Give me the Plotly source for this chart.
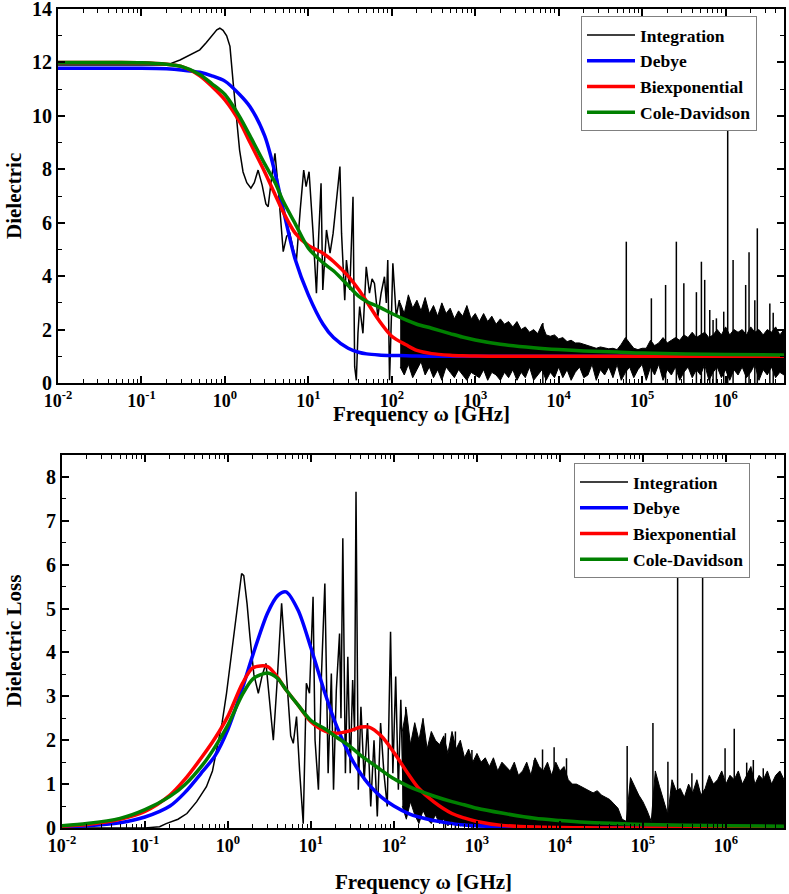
import plotly.graph_objects as go

# ---------------- data ----------------
# model curves share one frequency list (GHz)
model_f = [0.01, 0.02, 0.05, 0.1, 0.2, 0.3, 0.5, 0.7, 1, 1.5, 2, 3, 4, 5, 7, 10, 15, 20, 30, 40,
           50, 70, 100, 150, 200, 300, 500, 700, 1e3, 2e3, 5e3, 1e4, 2e4, 5e4, 1e5, 1e6, 5e6]

# top panel: dielectric (real part)
top_debye = [11.78, 11.78, 11.78, 11.78, 11.76, 11.72, 11.63, 11.5, 11.3, 10.8, 10.34, 9.25, 7.85, 6.5,
             4.6, 3.3, 2.2, 1.7, 1.3, 1.15, 1.09, 1.05, 1.03, 1.02, 1.01, 1.0, 1.0, 1.0, 1.0, 1.0,
             1.0, 1.0, 1.0, 1.0, 1.0, 1.0, 1.0]
top_biexp = [12.0, 12.0, 12.0, 11.99, 11.93, 11.85, 11.5, 11.1, 10.6, 9.78, 9.0, 7.9, 7.05, 6.4,
             5.6, 5.15, 4.86, 4.55, 4.0, 3.5, 3.05, 2.35, 1.75, 1.42, 1.22, 1.1, 1.04, 1.02, 1.01,
             1.0, 1.0, 1.0, 1.0, 1.0, 1.0, 1.0, 1.0]
top_cd = [12.0, 12.0, 12.0, 11.99, 11.93, 11.85, 11.55, 11.2, 10.8, 9.97, 9.25, 8.2, 7.5, 6.8,
          5.95, 5.05, 4.5, 4.2, 3.65, 3.25, 3.05, 2.85, 2.6, 2.35, 2.2, 2.05, 1.85, 1.72, 1.61,
          1.45, 1.32, 1.25, 1.2, 1.16, 1.12, 1.07, 1.05]

# bottom panel: dielectric loss
bot_debye = [0.03, 0.05, 0.12, 0.25, 0.5, 0.8, 1.3, 1.65, 2.25, 3.2, 3.95, 4.9, 5.3, 5.38, 4.96,
             4.1, 3.03, 2.36, 1.62, 1.23, 0.99, 0.71, 0.5, 0.33, 0.25, 0.17, 0.1, 0.07, 0.05,
             0.025, 0.01, 0.005, 0, 0, 0, 0, 0]
bot_biexp = [0.04, 0.08, 0.2, 0.38, 0.75, 1.1, 1.65, 2.05, 2.55, 3.3, 3.65, 3.68, 3.42, 3.15, 2.8,
             2.42, 2.2, 2.16, 2.22, 2.3, 2.3, 2.1, 1.72, 1.22, 0.9, 0.6, 0.33, 0.23, 0.15, 0.06,
             0.02, 0.01, 0.005, 0, 0, 0, 0]
bot_cd = [0.05, 0.1, 0.22, 0.42, 0.72, 0.98, 1.45, 1.85, 2.35, 3.05, 3.4, 3.53, 3.4, 3.15, 2.8,
          2.45, 2.25, 2.08, 1.85, 1.65, 1.52, 1.32, 1.12, 0.95, 0.85, 0.73, 0.6, 0.53, 0.45,
          0.34, 0.22, 0.17, 0.13, 0.1, 0.08, 0.05, 0.04]

# Integration, resolved part (top)
top_int_f = [0.01, 0.05, 0.1, 0.2, 0.29, 0.4, 0.5, 0.6, 0.72, 0.8, 0.87, 0.95, 1.05, 1.15, 1.26,
             1.37, 1.5, 1.65, 1.83, 2.05, 2.25, 2.5, 2.8, 3.1, 3.3, 3.6, 3.98, 4.3, 4.7, 5.0,
             5.5, 6.0, 6.6, 7.2, 8.0, 8.8, 9.4, 10.2, 11.4, 12.5, 13.3, 14.2, 14.9, 16.5, 18.2,
             19.8, 22.6, 23.9, 25.0, 27.3, 28.6, 31.4, 34.3, 35.9, 37.6, 39.3, 41.2, 45.1, 49.4,
             54, 58, 62, 68, 74.5, 81.7, 86, 89.5, 94, 99, 103, 113, 123, 135]
top_int_v = [11.9, 11.9, 11.88, 11.9, 12.09, 12.3, 12.47, 12.75, 13.05, 13.22, 13.28, 13.2, 13.0,
             12.6, 11.2, 10.0, 8.72, 7.9, 7.5, 7.29, 7.5, 7.97, 7.4, 6.7, 6.6, 7.6, 8.6, 7.5, 5.8,
             4.92, 5.5, 5.6, 5.0, 4.6, 6.5, 7.97, 7.35, 7.91, 5.6, 3.36, 5.5, 7.48, 3.48, 5.73,
             4.86, 5.6, 7.35, 8.1, 5.6, 3.1, 4.6, 3.48, 6.97, 0.61, 0.1, 1.86, 2.86, 1.86, 4.35,
             3.36, 3.9, 3.73, 2.48, 3.36, 3.98, 3.0, 4.6, 0.1, 2.5, 4.48, 2.48, 3.1, 1.86]

# Integration, resolved part (bottom)
bot_int_f = [0.01, 0.1, 0.15, 0.18, 0.25, 0.32, 0.42, 0.55, 0.65, 0.73, 0.85, 0.96, 1.06, 1.16,
             1.3, 1.46, 1.55, 1.7, 1.84, 2.05, 2.32, 2.6, 2.87, 3.2, 3.52, 3.9, 4.43, 4.85, 5.33,
             5.7, 6.12, 6.7, 7.3, 8.07, 8.8, 9.6, 10.6, 11.2, 12.3, 13.4, 14.7, 16.1, 17.6, 18.7,
             20.2, 22.1, 23.0, 24.2, 26, 27.8, 29.7, 31.8, 33.5, 34.9, 37.2, 40, 43.8, 48, 52.5,
             57.5, 63, 69, 75.7, 83, 91, 97, 105, 113, 121, 130, 139]
bot_int_v = [0, 0, 0.03, 0.1, 0.2, 0.33, 0.6, 0.94, 1.3, 1.78, 2.4, 3.07, 3.7, 4.28, 5.1, 5.8,
             5.75, 5.1, 4.36, 3.5, 3.07, 3.5, 3.75, 2.9, 2.0, 3.3, 5.12, 4.0, 2.84, 2.1, 1.93,
             2.54, 1.3, 0.1, 3.3, 3.07, 5.27, 2.0, 0.87, 3.52, 5.57, 1.25, 3.52, 0.87, 3.14, 4.43,
             2.5, 6.6, 1.25, 3.9, 1.25, 3.37, 2.2, 7.66, 0.87, 2.76, 1.09, 2.39, 0.49, 2.0, 0.26,
             2.39, 1.25, 0.49, 4.47, 1.25, 3.45, 0.87, 2.92, 0.64, 2.76]

# Integration, dense high-frequency part: lower / upper envelope of the oscillation
band_f = [1.26e2, 1.41e2, 1.58e2, 1.78e2, 2.00e2, 2.24e2, 2.51e2, 2.82e2, 3.16e2, 3.55e2,
          3.98e2, 4.47e2, 5.01e2, 5.62e2, 6.31e2, 7.08e2, 7.94e2, 8.91e2,
          1.00e3, 1.12e3, 1.26e3, 1.41e3, 1.58e3, 1.78e3, 2.00e3, 2.24e3, 2.51e3, 2.82e3,
          3.16e3, 3.55e3, 3.98e3, 4.47e3, 5.01e3, 5.62e3, 6.31e3, 7.08e3, 7.94e3, 8.91e3,
          1.00e4, 1.12e4, 1.26e4, 1.41e4, 1.58e4, 1.78e4, 2.00e4, 2.24e4, 2.51e4, 2.82e4,
          3.16e4, 3.55e4, 3.98e4, 4.47e4, 5.01e4, 5.62e4, 6.31e4, 7.08e4, 7.94e4, 8.91e4,
          1.00e5, 1.12e5, 1.26e5, 1.41e5, 1.58e5, 1.78e5, 2.00e5, 2.24e5, 2.51e5, 2.82e5,
          3.16e5, 3.55e5, 3.98e5, 4.47e5, 5.01e5, 5.62e5, 6.31e5, 7.08e5, 7.94e5, 8.91e5,
          1.00e6, 1.12e6, 1.26e6, 1.41e6, 1.58e6, 1.78e6, 2.00e6, 2.24e6, 2.51e6, 2.82e6,
          3.16e6, 3.55e6, 3.98e6, 4.47e6, 5.01e6]
top_band_hi = [3.0, 2.6, 3.3, 2.8, 3.1, 2.7, 3.2, 2.6, 2.9,
               2.5, 3.0, 2.6, 2.8, 2.4, 2.7, 2.5, 2.9, 2.4, 2.6,
               2.3, 2.6, 2.3, 2.5, 2.2, 2.4, 2.2, 2.3, 2.1, 2.3,
               2.0, 2.1, 1.9, 2.0, 1.85, 2.2, 1.8, 1.75, 1.8, 1.65,
               1.7, 1.55, 1.6, 1.5, 1.5, 1.45, 1.4, 1.35, 1.3, 1.35,
               1.3, 1.28, 1.3, 1.25, 1.45, 1.7, 1.5, 1.3, 1.25, 1.3,
               1.3, 1.6, 1.4, 1.5, 1.7, 1.5, 1.6, 1.7, 1.6, 1.8,
               1.7, 1.9, 1.7, 1.8, 1.9, 1.7, 1.8, 2.0, 1.8, 2.1,
               1.8, 2.0, 1.9, 2.0, 1.8, 2.1, 1.9, 2.0, 1.8, 2.0,
               1.9, 2.1, 1.8, 2.0]
top_band_lo = [0.6, 0.3, 0.7, 0.2, 0.5, 0.8, 0.3, 0.6, 0.2,
               0.5, 0.1, 0.6, 0.4, 0.2, 0.5, 0.3, 0.1, 0.4, 0.3,
               0.2, 0.5, 0.1, 0.4, 0.3, 0.1, 0.4, 0.2, 0.5, 0.1,
               0.4, 0.2, 0.6, 0.1, 0.3, 0.5, 0.1, 0.4, 0.2, 0.6,
               0.2, 0.5, 0.1, 0.4, 0.6, 0.2, 0.3, 0.7, 0.1, 0.5,
               0.3, 0.6, 0.2, 0.7, 0.1, 0.4, 0.6, 0.2, 0.5, 0.7,
               0.1, 0.6, 0.3, 0.7, 0.1, 0.5, 0.3, 0.6, 0.1, 0.4,
               0.6, 0.2, 0.5, 0.3, 0.7, 0.1, 0.4, 0.6, 0.2, 0.5,
               0.1, 0.5, 0.3, 0.6, 0.2, 0.4, 0.7, 0.1, 0.5, 0.3,
               0.6, 0.2, 0.4, 0.3]
bot_band_hi = [2.2, 2.7, 1.9, 2.4, 2.0, 2.5, 1.8, 2.2, 2.0,
               1.9, 2.1, 1.7, 2.2, 1.8, 2.0, 1.6, 1.8, 1.5, 1.7,
               1.5, 1.6, 1.4, 1.6, 1.3, 1.5, 1.4, 1.3, 1.5, 1.2,
               1.3, 1.5, 1.2, 1.6, 1.4, 1.3, 1.5, 1.2, 1.5, 1.3,
               1.4, 1.1, 1.0, 1.0, 0.95, 0.9, 0.85, 0.8, 0.85, 0.75,
               0.7, 0.65, 0.55, 0.45, 0.2, 0.15, 1.15, 0.95, 0.75, 0.6,
               0.4, 0.15, 1.3, 0.95, 0.6, 0.3, 1.1, 0.85, 0.9, 0.7,
               1.0, 0.8, 1.1, 0.75, 0.9, 1.2, 1.0, 1.1, 1.3, 1.0,
               1.2, 1.1, 1.3, 1.0, 1.2, 1.4, 1.0, 1.2, 1.1, 1.3,
               1.0, 1.2, 1.3, 1.1]
bot_band_lo = [0.5, 0.2, 0.6, 0.3, 0.1, 0.4, 0.2, 0.1, 0.3,
               0.1, 0.2, 0.05, 0.15, 0.1, 0.05, 0.1, 0.05, 0.08, 0.03,
               0.02, 0.03, 0.02, 0.04, 0.02, 0.03, 0.02, 0.02, 0.03, 0.02,
               0.02, 0.03, 0.02, 0.02, 0.04, 0.02, 0.03, 0.02, 0.02, 0.03,
               0.02, 0.02, 0.03, 0.02, 0.02, 0.02, 0.03, 0.02, 0.02, 0.02,
               0.02, 0.02, 0.02, 0.02, 0.02, 0.02, 0.02, 0.02, 0.02, 0.02,
               0.02, 0.02, 0.02, 0.02, 0.02, 0.02, 0.02, 0.02, 0.02, 0.02,
               0.02, 0.03, 0.02, 0.02, 0.03, 0.02, 0.02, 0.03, 0.02, 0.02,
               0.03, 0.02, 0.02, 0.03, 0.02, 0.02, 0.03, 0.02, 0.02, 0.03,
               0.02, 0.02, 0.03, 0.02]

# isolated sharp spikes of the Integration curve
top_spike_f = [6.46e3, 6.46e4, 1.29e5, 1.91e5, 2.57e5, 3.16e5, 4.47e5, 5.13e5, 5.62e5, 6.46e5,
               7.08e5, 7.76e5, 9.5e5, 1.06e6, 1.23e6, 1.74e6, 1.91e6, 2.24e6, 2.40e6, 3.39e6, 3.72e6]
top_spike_v = [2.25, 5.29, 3.17, 3.67, 5.29, 3.73, 3.4, 4.54, 3.86, 2.73, 2.36, 2.42, 2.67, 11.5,
               4.6, 3.67, 4.89, 3.1, 5.79, 2.98, 2.63]
bot_spike_f = [4.17e2, 5.5e2, 8.7e2, 4.9e3, 6.17e3, 8.51e3, 1.2e4, 6.46e4, 1.32e5, 2.0e5, 2.62e5,
               3.89e5, 5.24e5, 9.77e5, 1.26e6, 1.78e6, 2.14e6, 2.82e6]
bot_spike_v = [2.16, 2.2, 1.78, 1.55, 1.79, 1.84, 1.59, 1.87, 2.39, 1.51, 7.0, 1.25, 7.0, 1.82,
               2.26, 1.49, 1.55, 1.36]

# ticks
x_tickvals = [1e-2, 1e-1, 1e0, 1e1, 1e2, 1e3, 1e4, 1e5, 1e6]
x_ticktext = ['10<sup>-2</sup>', '10<sup>-1</sup>', '10<sup>0</sup>', '10<sup>1</sup>',
              '10<sup>2</sup>', '10<sup>3</sup>', '10<sup>4</sup>', '10<sup>5</sup>',
              '10<sup>6</sup>']
top_y_ticks = [0, 2, 4, 6, 8, 10, 12, 14]
bot_y_ticks = [0, 1, 2, 3, 4, 5, 6, 7, 8]
series_names = ['Integration', 'Debye', 'Biexponential', 'Cole-Davidson']
series_colors = ['#000000', '#0000FF', '#FF0000', '#008000']

# ---------------- figure ----------------
FONT = 'Liberation Serif'
W, H = 789, 894
fig = go.Figure()


def add_panel(xa, ya, leg, int_f, int_v, lo, hi, sp_f, sp_v, models):
    fig.add_trace(go.Scatter(x=int_f, y=int_v, mode='lines', name=series_names[0],
                             line=dict(color=series_colors[0], width=1.5),
                             xaxis=xa, yaxis=ya, legend=leg))
    fig.add_trace(go.Scatter(x=band_f, y=lo, mode='lines', showlegend=False,
                             line=dict(color='black', width=1), xaxis=xa, yaxis=ya))
    fig.add_trace(go.Scatter(x=band_f, y=hi, mode='lines', showlegend=False,
                             line=dict(color='black', width=1), fill='tonexty',
                             fillcolor='black', xaxis=xa, yaxis=ya))
    sx, sy = [], []
    for f, v in zip(sp_f, sp_v):
        sx += [f, f, None]
        sy += [0, v, None]
    fig.add_trace(go.Scatter(x=sx, y=sy, mode='lines', showlegend=False,
                             line=dict(color='black', width=1.5), xaxis=xa, yaxis=ya))
    for name, vals, col in zip(series_names[1:], models, series_colors[1:]):
        fig.add_trace(go.Scatter(x=model_f, y=vals, mode='lines', name=name,
                                 line=dict(color=col, width=3.5, shape='spline', smoothing=0.8),
                                 xaxis=xa, yaxis=ya, legend=leg))


add_panel('x', 'y', 'legend', top_int_f, top_int_v, top_band_lo, top_band_hi,
          top_spike_f, top_spike_v, [top_debye, top_biexp, top_cd])
add_panel('x2', 'y2', 'legend2', bot_int_f, bot_int_v, bot_band_lo, bot_band_hi,
          bot_spike_f, bot_spike_v, [bot_debye, bot_biexp, bot_cd])

minor_x = [m * 10.0 ** d for d in range(-2, 7) for m in range(2, 10) if m * 10.0 ** d <= 5e6]
minor_y_top = [v + 1 for v in top_y_ticks[:-1]]
minor_y_bot = [v + 0.5 for v in bot_y_ticks] + [8.5]

xtickfont = dict(family=FONT, size=18, color='black', weight='bold')
ytickfont = dict(family=FONT, size=20, color='black', weight='bold')
minor_style = dict(tickmode='array', ticks='inside', ticklen=4, tickwidth=1,
                   tickcolor='black', showgrid=False)
common_x = dict(type='log', range=[-2, 6.7], tickmode='array', tickvals=x_tickvals,
                ticktext=x_ticktext, ticks='inside', ticklen=7, tickwidth=1.5,
                tickcolor='black', showline=True, linewidth=2, linecolor='black',
                mirror='ticks', showgrid=False, zeroline=False, tickfont=xtickfont,
                automargin=False, ticklabeloverflow='allow',
                minor=dict(tickvals=minor_x, **minor_style))
common_y = dict(tickmode='array', ticks='inside', ticklen=7, tickwidth=1.5, tickcolor='black',
                showline=True, linewidth=2, linecolor='black', mirror='ticks', showgrid=False,
                zeroline=False, tickfont=ytickfont, automargin=False,
                ticklabeloverflow='allow')
legend_common = dict(xanchor='left', yanchor='top', bgcolor='white', bordercolor='#808080',
                     borderwidth=1, traceorder='normal', itemwidth=48, tracegroupgap=0,
                     font=dict(family=FONT, size=17.5, color='black', weight='bold'))

fig.update_layout(
    width=W, height=H, margin=dict(l=0, r=0, t=0, b=0, pad=0),
    paper_bgcolor='white', plot_bgcolor='white',
    font=dict(family=FONT, color='black'),
    xaxis=dict(domain=[58 / W, 784 / W], anchor='y', **common_x),
    yaxis=dict(domain=[(H - 383) / H, (H - 9) / H], anchor='x', range=[0, 14],
               tickvals=top_y_ticks, ticktext=[str(v) for v in top_y_ticks],
               minor=dict(tickvals=minor_y_top, **minor_style), **common_y),
    xaxis2=dict(domain=[62 / W, 784 / W], anchor='y2', **common_x),
    yaxis2=dict(domain=[(H - 828) / H, (H - 455) / H], anchor='x2', range=[0, 8.5],
                tickvals=bot_y_ticks, ticktext=[str(v) for v in bot_y_ticks],
                minor=dict(tickvals=minor_y_bot, **minor_style), **common_y),
    legend=dict(x=581 / W, y=1 - 16 / H, **legend_common),
    legend2=dict(x=574 / W, y=1 - 463 / H, **legend_common),
    showlegend=True,
)

title_font = dict(family=FONT, size=21, color='black', weight='bold')
annots = [
    dict(text='Frequency ω [GHz]', x=(58 + 784) / 2 / W, y=(H - 414) / H),
    dict(text='Frequency ω [GHz]', x=(62 + 784) / 2 / W, y=(H - 882) / H),
    dict(text='Dielectric', x=14 / W, y=(H - 196) / H, textangle=-90),
    dict(text='Dielectric Loss', x=14 / W, y=(H - 641) / H, textangle=-90),
]
for a in annots:
    fig.add_annotation(xref='paper', yref='paper', showarrow=False, xanchor='center',
                       yanchor='middle', font=title_font, **a)

fig.write_html('out.html', config={'displayModeBar': False},
               post_script="document.body.style.margin='0';document.body.style.padding='0';"
                           "document.body.style.overflow='hidden';")
